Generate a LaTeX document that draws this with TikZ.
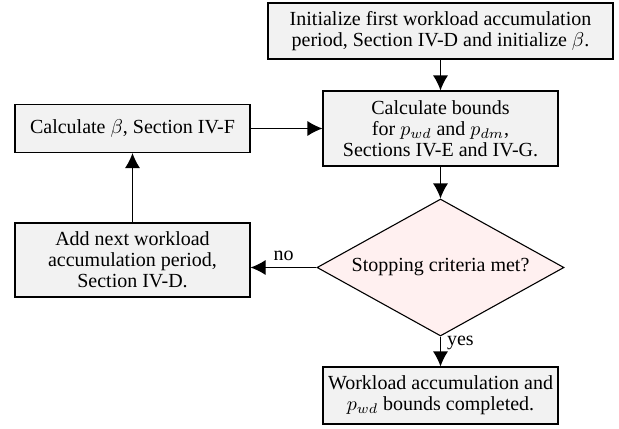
\documentclass[tikz,border=0pt]{standalone}
\usepackage{fontspec}
\setmainfont{Liberation Serif}
\usetikzlibrary{shapes.geometric,arrows.meta}

\begin{document}
\begin{tikzpicture}[x=0.5pt, y=-0.5pt, font={\fontsize{10}{10.6}\selectfont}, line width=0.55pt,
        procbox/.style={draw, fill=gray!10, align=center, inner sep=2pt, minimum width=117.5pt},
        decision/.style={draw, diamond, aspect=1.8, fill=red!6, align=center, inner sep=0pt, minimum width=123.5pt, minimum height=68.5pt},
        flow/.style={-{Latex[length=7.5pt, width=7.5pt]}}]
        \useasboundingbox (0,0) rectangle (619,428);

        \node[procbox, minimum width=172.5pt, minimum height=28pt] (init) at (440.5,31)
                {Initialize first workload accumulation\\period, Section IV-D and initialize $\beta$.};
        \node[procbox, minimum height=37.5pt] (bounds) at (440.5,128.5)
                {Calculate bounds\\for $p_{wd}$ and $p_{dm}$,\\Sections IV-E and IV-G.};
        \node[decision] (stop) at (440.5,267.5) {Stopping criteria met?};
        \node[procbox, minimum height=28.5pt] (done) at (440.5,395.5)
                {Workload accumulation and\\$p_{wd}$ bounds completed.};
        \node[procbox, minimum height=24pt] (beta) at (132.5,128.5) {Calculate $\beta$, Section IV-F};
        \node[procbox, minimum height=37pt] (addnext) at (132.5,260)
                {Add next workload\\accumulation period,\\Section IV-D.};

        \draw[flow] (init) -- (bounds);
        \draw[flow] (bounds) -- (stop);
        \draw[flow] (stop.south) -- node[pos=0.2, right, inner sep=3pt] {yes} (done);
        \draw[flow] (stop.west) -- node[above, pos=0.5] {no} (stop.west -| addnext.east);
        \draw[flow] (addnext) -- (beta);
        \draw[flow] (beta) -- (bounds);
\end{tikzpicture}
\end{document}
